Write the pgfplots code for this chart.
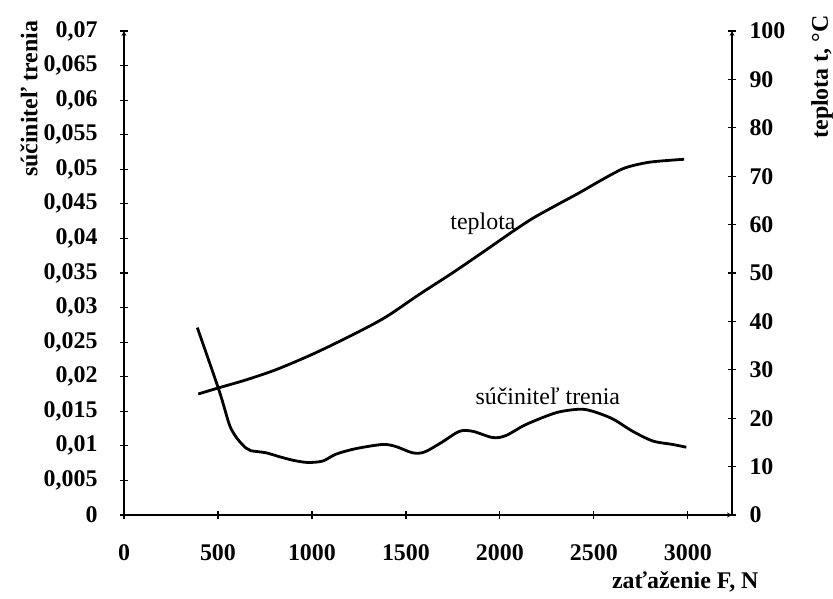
\documentclass[border=0pt]{standalone}
\usepackage{fontspec}
\setmainfont{Liberation Serif}
\usepackage{pgfplots}
\pgfplotsset{compat=1.18}
\begin{document}
\begin{tikzpicture}[font=\fontsize{24}{28}\selectfont]
\pgfplotsset{
  common/.style={
    scale only axis, width=608bp, height=484bp,
    xmin=0, xmax=3235,
    tick align=outside, major tick length=8bp,
    tick style={line width=1.2bp, black},
    axis line style={-, line width=1.2bp},
    ticklabel style={font=\fontsize{24}{28}\selectfont\bfseries},
    scaled ticks=false,
    clip=false,
  }
}
\begin{axis}[common, name=ax,
  ymin=0, ymax=0.07,
  axis x line=bottom, axis y line=left,
  xtick={0,500,1000,1500,2000,2500,3000},
  xticklabels={0,500,1000,1500,2000,2500,3000},
  xticklabel style={yshift=-22bp},
  ytick={0,0.005,0.01,0.015,0.02,0.025,0.03,0.035,0.04,0.045,0.05,0.055,0.06,0.065,0.07},
  yticklabels={0,{0,005},{0,01},{0,015},{0,02},{0,025},{0,03},{0,035},{0,04},{0,045},{0,05},{0,055},{0,06},{0,065},{0,07}},
  yticklabel style={xshift=-19bp},
]
\addplot[black, line width=2.8bp, smooth, tension=0.5] coordinates {
(390,0.0271) (506,0.0180) (559,0.0132) (586,0.0117) (613,0.0107) (648,0.0097)
(675,0.0093) (755,0.0090) (831,0.0084) (902,0.0079) (977,0.0076) (1057,0.0078)
(1128,0.0088) (1234,0.0096) (1376,0.0102) (1447,0.0099) (1535,0.0090) (1598,0.0091)
(1690,0.0105) (1785,0.0121) (1856,0.0121) (1962,0.0112) (2033,0.0115) (2140,0.0131)
(2300,0.0148) (2424,0.0153) (2494,0.0150) (2600,0.0139) (2707,0.0121) (2814,0.0107)
(2920,0.0102) (2992,0.0098)
};
\node at (axis cs:1910,0.0421) {teplota};
\node at (axis cs:2255,0.0172) {súčiniteľ trenia};
\node[rotate=90, font=\fontsize{24}{28}\selectfont\bfseries] at ([xshift=-95bp]rel axis cs:0,0.86) {súčiniteľ trenia};
\node[rotate=90, font=\fontsize{24}{28}\selectfont\bfseries] at ([xshift=90bp]rel axis cs:1,0.905) {teplota t, °C};
\node[anchor=east, font=\fontsize{24}{28}\selectfont\bfseries] at ([xshift=30bp,yshift=-67bp]rel axis cs:1,0) {zaťaženie F, N};
\end{axis}
\begin{axis}[common,
  ymin=0, ymax=100,
  axis x line=none, axis y line=right,
  ytick={0,10,20,30,40,50,60,70,80,90,100},
  yticklabels={0,10,20,30,40,50,60,70,80,90,100},
  yticklabel style={xshift=10bp},
]
\addplot[black, line width=2.8bp, smooth, tension=0.5] coordinates {
(395,25.0) (506,26.3) (648,27.9) (807,30.0) (1002,33.2) (1215,37.2) (1393,40.9)
(1572,45.6) (1751,50.1) (1928,54.8) (2069,58.6) (2175,61.3) (2300,64.0) (2424,66.6)
(2513,68.6) (2601,70.5) (2672,71.8) (2797,72.9) (2980,73.5)
};
\end{axis}
\pgfresetboundingbox
\path ([xshift=-124bp,yshift=-84bp]ax.south west) rectangle ([xshift=101bp,yshift=31bp]ax.north east);
\end{tikzpicture}
\end{document}
